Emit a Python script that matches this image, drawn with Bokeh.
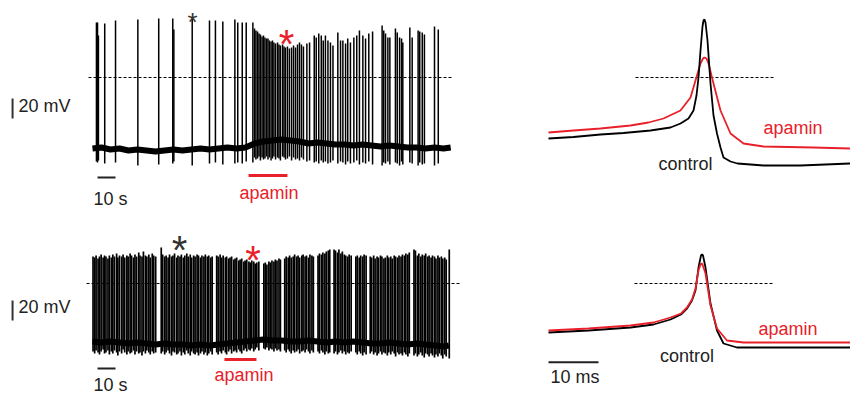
from bokeh.plotting import figure
from bokeh.models import Range1d, Label
from bokeh.layouts import column, row
from bokeh.embed import file_html
from bokeh.resources import INLINE

# ------------------------------------------------------------------ data
# Top recording (s, mV): spike times, peaks, troughs
top_spike_t = [2.2, 2.8, 3.3, 6.8, 12.8, 25.2, 36.8, 44.6, 45.2, 55.4, 65.0, 68.3, 72.4, 79.1, 80.7, 83.2, 85.4, 89.1,
               90.0, 90.8, 91.7, 92.5, 93.3, 94.2, 95.0, 95.8, 96.7, 97.5, 98.3, 99.2, 100.0, 100.8, 101.7, 102.8,
               103.6, 104.4, 105.6, 106.4, 107.2, 108.3, 109.4, 110.6, 111.7, 112.8, 113.9, 115.0, 116.1, 117.2,
               119.1, 120.6, 123.2, 124.3, 125.7, 127.1, 128.2, 129.4, 130.8, 132.2, 133.6, 136.3, 137.8, 139.1,
               140.6, 141.8, 143.3, 145.2, 146.8, 148.3, 150.2, 151.7, 153.5, 155.6, 160.9, 161.8, 162.8, 164.1,
               165.2, 168.3, 169.3, 170.6, 171.7, 172.4, 176.3, 177.6, 180.9, 181.8, 183.2, 184.4, 190.0, 192.1]
top_spike_peak = [55, 55, 42, 54, 57, 58, 59, 59, 48, 59, 57, 57, 56, 58, 55, 55, 55, 55,
                  49, 47, 46, 44, 43, 41, 42, 40, 39, 39, 37, 36, 37, 35, 34, 35,
                  33, 32, 33, 31, 30, 31, 29, 30, 32, 30, 33, 35, 33, 31,
                  34, 35, 42, 40, 44, 42, 37, 42, 37, 35, 32, 45, 37, 37,
                  34, 39, 35, 40, 42, 47, 42, 39, 44, 46, 52, 47, 44, 40,
                  40, 49, 45, 40, 39, 35, 50, 40, 47, 46, 45, 43, 51, 48]
top_spike_trough = [-84, -85, -83, -86, -85, -88, -87, -86, -84, -88, -86, -85, -87, -86, -85, -86, -84, -85,
                    -80, -82, -81, -79, -83, -80, -82, -81, -79, -82, -80, -83, -81, -79, -82, -80,
                    -81, -83, -79, -80, -82, -81, -79, -83, -80, -82, -81, -83, -80, -82,
                    -84, -83, -85, -84, -86, -83, -85, -84, -86, -85, -83, -86, -84, -85,
                    -87, -84, -86, -85, -83, -87, -85, -86, -84, -87, -88, -85, -86, -84,
                    -87, -85, -86, -88, -84, -87, -85, -86, -88, -85, -87, -86, -88, -86]
top_base_t = [0, 5, 10, 15, 20, 25, 30, 35, 40, 45, 50, 55, 60, 65, 70, 75, 80, 85, 90, 95, 100,
              105, 110, 115, 120, 125, 130, 135, 140, 145, 150, 155, 160, 165, 170, 175, 180, 185, 190, 195, 199]
top_base_v = [-71, -70, -72, -71, -73, -72, -73, -74, -73, -72, -73, -72, -71, -72, -71, -70, -71, -70, -66, -64, -63,
              -62, -63, -64, -66, -65, -66, -67, -67, -68, -67, -68, -69, -68, -69, -70, -70, -71, -70, -71, -70]

# Bottom recording (s, mV)
bot_spike_t = [0.3, 1.2, 2.0, 3.1, 3.9, 4.8, 5.9, 6.7, 7.5, 8.6, 9.4, 10.5, 11.3, 12.2, 13.4, 14.1, 15.0, 16.2, 17.0, 17.9,
               19.1, 19.8, 20.9, 21.7, 22.8, 23.6, 24.5, 25.7, 26.4, 27.5, 28.3, 29.4, 30.2, 31.3, 32.1, 33.2, 34.0, 35.1,
               38.2, 39.0, 40.1, 40.9, 42.0, 42.8, 43.9, 44.7, 45.6, 46.8, 47.5, 48.6, 49.4, 50.5, 51.3, 52.4, 53.2, 54.3,
               55.1, 56.2, 57.0, 58.1, 58.9, 60.0, 60.8, 61.9, 62.7, 63.8, 64.6, 65.7, 66.5,
               69.0, 69.8, 70.9, 71.7, 72.6, 73.8, 74.5, 75.6, 76.4, 77.3, 78.5, 79.2, 80.1, 81.3, 82.0, 82.9, 84.1, 84.8,
               85.7, 86.9, 87.6, 88.5, 89.6, 90.4, 91.3, 92.4,
               95.2, 96.0, 96.9, 98.0, 98.8, 99.7, 100.8, 101.6, 102.5, 103.6, 104.4,
               106.8, 107.6, 108.7, 109.5, 110.4, 111.5, 112.3, 113.4, 114.2, 115.1, 116.3, 117.0, 118.1, 118.9, 120.0,
               120.8, 121.9, 122.7,
               125.3, 126.1, 127.2, 128.0, 129.1, 129.9, 131.0, 131.8,
               134.2, 135.0, 136.1, 136.9, 138.0, 138.8, 139.9, 140.7, 141.8, 142.6, 143.7,
               146.3, 147.1, 148.2, 149.0, 150.1, 150.9, 152.0,
               154.3, 155.1, 156.2, 157.0, 158.1, 158.9, 160.0, 160.8, 161.9, 162.7, 163.8, 164.6, 165.7, 166.5, 167.6,
               168.4, 169.5, 170.3, 171.4, 172.2, 173.3, 174.1, 175.2, 176.0,
               178.6, 179.4, 180.5, 181.3, 182.4, 183.2, 184.3, 185.1, 186.2, 187.0, 188.1, 188.9, 190.0, 190.8, 191.9,
               192.7, 193.8, 194.6, 195.7, 196.5, 198.2]
bot_spike_peak = [27, 26, 28, 25, 27, 29, 26, 28, 27, 25, 28, 26, 29, 27, 30, 26, 28, 27, 29, 26,
                  28, 27, 30, 28, 26, 29, 27, 31, 28, 27, 32, 28, 27, 29, 26, 30, 28, 27,
                  36, 29, 27, 28, 26, 29, 27, 28, 30, 26, 28, 27, 29, 26, 28, 30, 27, 29,
                  26, 28, 27, 29, 28, 26, 28, 27, 29, 27, 28, 26, 27,
                  28, 27, 29, 26, 28, 26, 27, 25, 26, 27, 24, 25, 26, 23, 24, 25, 22, 23,
                  24, 22, 21, 23, 22, 20, 21, 22,
                  20, 21, 19, 22, 21, 23, 22, 24, 23, 25, 24,
                  25, 27, 26, 28, 26, 27, 29, 27, 28, 26, 28, 29, 27, 28, 26,
                  29, 28, 27,
                  28, 30, 29, 31, 30, 32, 33, 34,
                  34, 33, 31, 34, 30, 32, 29, 28, 27, 29, 28,
                  27, 28, 26, 28, 27, 29, 28,
                  27, 26, 28, 25, 27, 26, 28, 27, 25, 26, 28, 26, 27, 25, 28,
                  27, 26, 28, 27, 29, 28, 30, 29, 31,
                  34, 33, 28, 30, 27, 29, 28, 30, 27, 28, 26, 28, 27, 25, 28,
                  26, 27, 25, 26, 24, 34]
bot_spike_trough = [-68, -70, -67, -69, -71, -68, -66, -70, -69, -67, -71, -68, -70, -67, -69, -72, -68, -70, -66, -69,
                    -71, -68, -70, -69, -67, -71, -68, -70, -69, -72, -68, -70, -67, -69, -71, -68, -70, -69,
                    -70, -68, -71, -69, -67, -70, -72, -68, -69, -71, -70, -68, -72, -69, -71, -67, -70, -72,
                    -68, -70, -71, -69, -72, -70, -68, -71, -69, -72, -70, -68, -71,
                    -69, -71, -68, -70, -67, -69, -71, -68, -66, -70, -68, -67, -69, -66, -68, -70, -67, -65,
                    -68, -66, -67, -65, -68, -66, -64, -67,
                    -65, -66, -64, -67, -65, -66, -68, -65, -67, -66, -68,
                    -67, -69, -66, -68, -70, -67, -69, -68, -66, -70, -68, -67, -69, -66, -68,
                    -70, -67, -69,
                    -68, -70, -67, -69, -71, -68, -70, -69,
                    -70, -68, -71, -69, -67, -70, -68, -71, -69, -70, -68,
                    -69, -71, -68, -70, -72, -69, -71,
                    -70, -68, -71, -69, -72, -70, -68, -71, -69, -70, -72, -69, -71, -68, -70,
                    -73, -69, -71, -70, -72, -69, -71, -73, -70,
                    -72, -70, -73, -71, -69, -72, -74, -70, -71, -73, -70, -72, -74, -71, -73,
                    -70, -72, -75, -71, -73, -75]
bot_base_t = [0, 5, 10, 15, 20, 25, 30, 35, 40, 45, 50, 55, 60, 65, 70, 75, 80, 85, 90, 95, 100,
              105, 110, 115, 120, 125, 130, 135, 140, 145, 150, 155, 160, 165, 170, 175, 180, 185, 190, 195, 198]
bot_base_v = [-58, -59, -58, -59, -60, -59, -60, -61, -60, -61, -61, -62, -61, -62, -61, -60, -59, -58, -57, -56, -57,
              -57, -58, -58, -57, -58, -59, -58, -59, -58, -59, -60, -60, -59, -60, -61, -60, -61, -62, -63, -62]

# Averaged action potentials (ms, mV)
ap_top_ctrl_t = [0, 5, 10.4, 15, 20.4, 24.4, 26.4, 28.0, 29.0, 29.6, 30.0, 30.4, 30.8, 31.0, 31.2, 31.4, 31.8, 32.4,
                 33.0, 33.7, 34.4, 35.0, 36.4, 37.8, 43.0, 50.4, 60.4]
ap_top_ctrl_v = [-61, -59.5, -57, -55.5, -53, -50, -46, -41, -33, -18, 0, 27, 51, 57, 58, 55, 37, -6,
                 -38, -56, -70, -80, -84, -86, -88, -88, -86]
ap_top_apa_t = [0, 5, 10.4, 16.4, 20, 23.0, 26.4, 28.4, 29.4, 30.4, 30.9, 31.2, 31.6, 32.0, 33.0, 34.4, 36.4, 39.0,
                43.0, 53.0, 60.4]
ap_top_apa_v = [-55, -53, -51, -48, -45, -41, -33, -20, -3, 14, 19, 20, 19, 14, -6, -33, -56, -66,
                -69, -70, -71]
ap_bot_ctrl_t = [0, 8, 16.4, 21, 24.4, 26.5, 27.7, 28.7, 29.4, 30.0, 30.5, 30.7, 30.9, 31.4, 32.4, 33.7, 35.0, 37.7,
                 45, 60.4]
ap_bot_ctrl_v = [-49, -47, -44, -41, -36, -31, -25, -17, -7, 16, 28, 29, 28, 16, -20, -47, -60, -64,
                 -64, -64]
ap_bot_apa_t = [0, 8, 16.4, 21, 24.4, 26.5, 27.7, 28.7, 29.4, 30.0, 30.4, 30.6, 30.8, 31.4, 32.4, 33.7, 35.7, 39.0,
                45, 60.4]
ap_bot_apa_v = [-47, -45, -42, -39, -34, -30, -24, -16, -5, 13, 19, 20, 19, 10, -22, -45, -57, -59,
                -59, -59]

# ------------------------------------------------------------------ style
BLACK = "#000000"
RED = "#e8202a"
TXT = "#222222"
FONT = "Liberation Sans"
FS = "18px"


def make_fig(w, h, xr, yr):
    p = figure(width=w, height=h, x_range=Range1d(*xr), y_range=Range1d(*yr),
               output_backend="svg", toolbar_location=None, min_border=0,
               x_axis_location=None, y_axis_location=None)
    p.grid.visible = False
    p.outline_line_color = None
    p.background_fill_color = "white"
    p.border_fill_color = "white"
    return p


def label(p, x, y, text, color=TXT, align="left", size=FS):
    p.add_layout(Label(x=x, y=y, text=text, text_color=color, text_font=FONT,
                       text_font_size=size, text_align=align, text_baseline="alphabetic"))


LW, RW = 470, 380
TH, BH = 210, 186
XL = (-51.1, 210.0)
XR = (-15.6, 60.4)
YT = (-133, 77)
YB = (-113, 73)

# ---------------- top left: long recording
p1 = make_fig(LW, TH, XL, YT)
p1.line(top_base_t, top_base_v, line_color=BLACK, line_width=6)
p1.segment(x0=top_spike_t, y0=top_spike_trough, x1=top_spike_t, y1=top_spike_peak,
           line_color=BLACK, line_width=1.5)
p1.segment(x0=[-2.2], y0=[0], x1=[200], y1=[0], line_color=BLACK, line_width=1, line_dash="3 2")
p1.segment(x0=[-44.4], y0=[-21], x1=[-44.4], y1=[-41], line_color="#333333", line_width=2)
label(p1, -41.1, -28, "20 mV")
p1.segment(x0=[2.8], y0=[-100], x1=[12.8], y1=[-100], line_color="#222222", line_width=2)
label(p1, 0.6, -121, "10 s")
p1.segment(x0=[86.7], y0=[-98], x1=[108.3], y1=[-98], line_color=RED, line_width=3)
label(p1, 98.1, -115, "apamin", color=RED, align="center")
label(p1, 55.6, 56, "*", color="#333333", align="center", size="26px")
label(p1, 107.8, 34, "*", color=RED, align="center", size="40px")

# ---------------- top right: averaged spikes
p2 = make_fig(RW, TH, XR, YT)
p2.segment(x0=[17.4], y0=[0], x1=[45.4], y1=[0], line_color=BLACK, line_width=1, line_dash="3 2")
p2.line(ap_top_apa_t, ap_top_apa_v, line_color=RED, line_width=1.8)
p2.line(ap_top_ctrl_t, ap_top_ctrl_v, line_color=BLACK, line_width=1.8)
label(p2, 48.9, -50, "apamin", color=RED, align="center")
label(p2, 27.4, -86, "control", align="center")

# ---------------- bottom left: long recording
p3 = make_fig(LW, BH, XL, YB)
p3.line(bot_base_t, bot_base_v, line_color=BLACK, line_width=6)
p3.segment(x0=bot_spike_t, y0=bot_spike_trough, x1=bot_spike_t, y1=bot_spike_peak,
           line_color=BLACK, line_width=1.7)
p3.segment(x0=[-3.3], y0=[0], x1=[204.4], y1=[0], line_color=BLACK, line_width=1, line_dash="3 2")
p3.segment(x0=[-44.4], y0=[-17], x1=[-44.4], y1=[-37], line_color="#333333", line_width=2)
label(p3, -41.1, -23, "20 mV")
p3.segment(x0=[2.8], y0=[-85], x1=[12.8], y1=[-85], line_color="#222222", line_width=2)
label(p3, 0.6, -101, "10 s")
p3.segment(x0=[73.3], y0=[-76], x1=[91.1], y1=[-76], line_color=RED, line_width=3)
label(p3, 84.2, -91, "apamin", color=RED, align="center")
label(p3, 48.3, 34, "*", color="#333333", align="center", size="40px")
label(p3, 89.2, 23.5, "*", color=RED, align="center", size="40px")

# ---------------- bottom right: averaged spikes
p4 = make_fig(RW, BH, XR, YB)
p4.segment(x0=[17.2], y0=[0], x1=[45.2], y1=[0], line_color=BLACK, line_width=1, line_dash="3 2")
p4.line(ap_bot_ctrl_t, ap_bot_ctrl_v, line_color=BLACK, line_width=1.8)
p4.line(ap_bot_apa_t, ap_bot_apa_v, line_color=RED, line_width=1.8)
label(p4, 47.9, -45, "apamin", color=RED, align="center")
label(p4, 27.7, -72, "control", align="center")
p4.segment(x0=[0], y0=[-78.7], x1=[10], y1=[-78.7], line_color="#222222", line_width=2)
label(p4, 0.4, -93.7, "10 ms")

layout = column(row(p1, p2), row(p3, p4))
open("out.html", "w").write(file_html(layout, INLINE))
